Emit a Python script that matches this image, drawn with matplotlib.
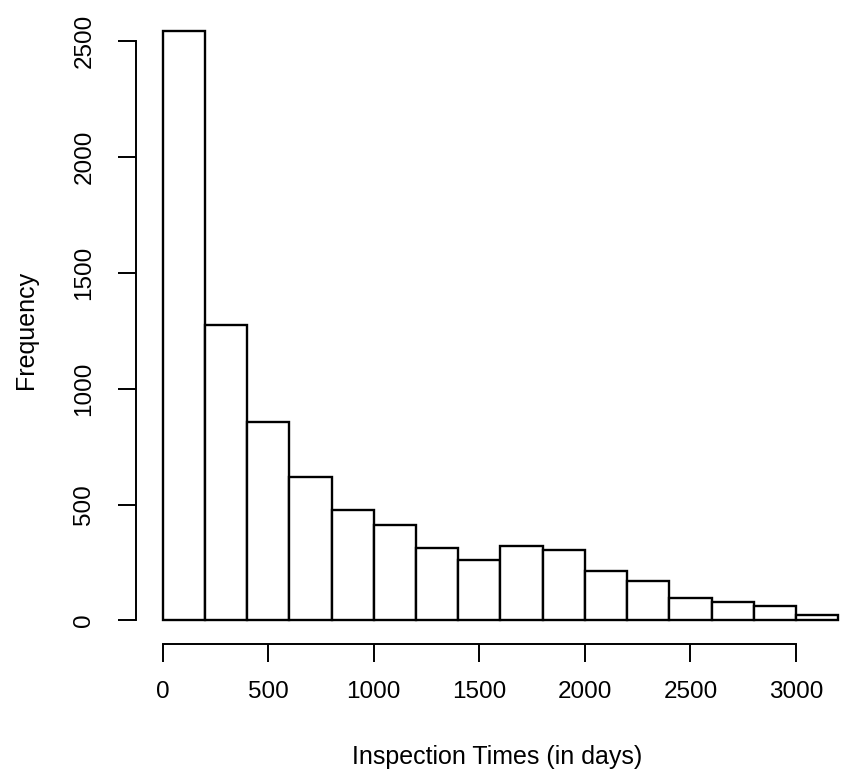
import matplotlib
matplotlib.use('Agg')
import matplotlib.pyplot as plt
import numpy as np

# histogram of inspection times, 200-day bins
bin_edges = np.arange(0, 3201, 200)
counts = [2543, 1273, 856, 619, 478, 411, 311, 261, 320, 304, 212, 170, 97, 78, 64, 25]
x_ticks = [0, 500, 1000, 1500, 2000, 2500, 3000]
y_ticks = [0, 500, 1000, 1500, 2000, 2500]

plt.rcParams['font.family'] = ['Liberation Sans', 'DejaVu Sans']

W, H = 841, 779
fig = plt.figure(figsize=(W / 100, H / 100), dpi=100, facecolor='white')

# plot region in pixels (R style: 4% padding around the data range)
left_px, right_px = 135.7, 865.2
top_px, bottom_px = 7.5, 644.0
ax = fig.add_axes([left_px / W, 1 - bottom_px / H,
                   (right_px - left_px) / W, (bottom_px - top_px) / H])

ax.bar(bin_edges[:-1], counts, width=200, align='edge',
       facecolor='white', edgecolor='black', linewidth=1.7)

ax.set_xlim(-128, 3328)
ax.set_ylim(-101.7, 2644.7)

for side in ['top', 'right']:
    ax.spines[side].set_visible(False)
ax.spines['left'].set_bounds(0, 2500)
ax.spines['bottom'].set_bounds(0, 3000)
for side in ['left', 'bottom']:
    ax.spines[side].set_linewidth(1.4)

ax.set_xticks(x_ticks)
ax.set_yticks(y_ticks)
ax.tick_params(axis='both', direction='out', length=13, width=1.4, labelsize=17.5)
ax.tick_params(axis='x', pad=14)
ax.tick_params(axis='y', pad=16, labelrotation=90)
for lab in ax.get_yticklabels():
    lab.set_va('center')

fig.text(497 / W, 1 - 757 / H, 'Inspection Times (in days)', ha='center', va='center', fontsize=18)
fig.text(26 / W, 1 - 330 / H, 'Frequency', ha='center', va='center', rotation=90, fontsize=18)

fig.savefig('out.png', dpi=100, facecolor='white')
